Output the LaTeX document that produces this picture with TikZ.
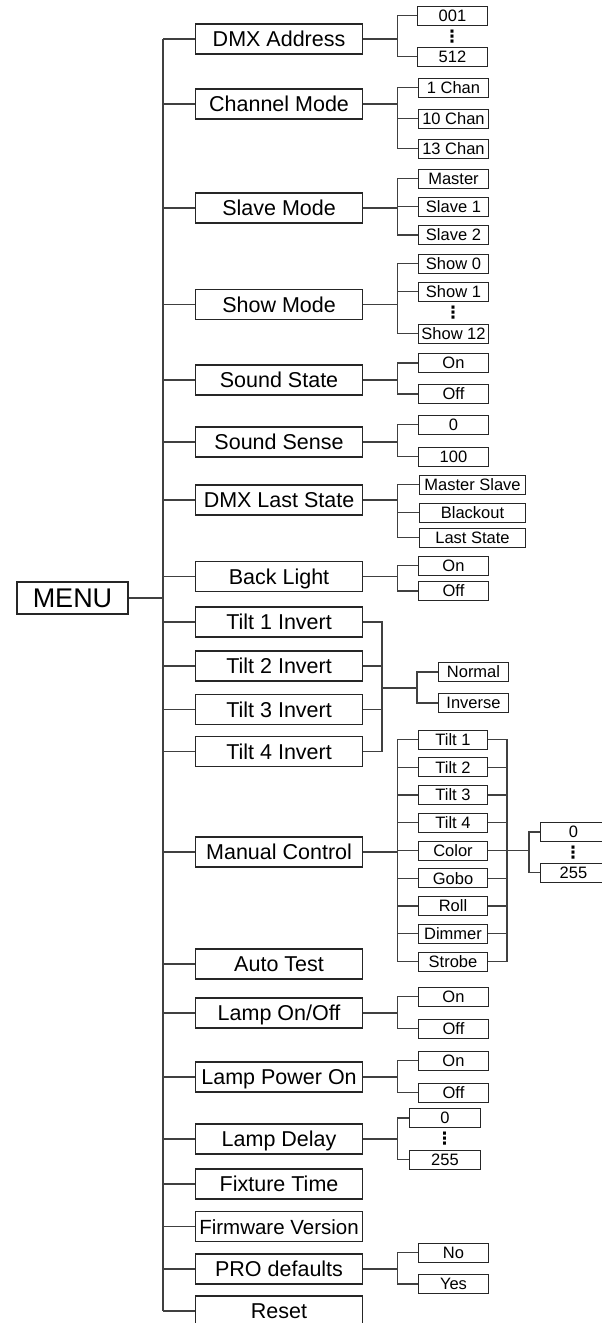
\documentclass[tikz,border=0pt]{standalone}
\usepackage{fontspec}
\setmainfont{Liberation Sans}
\newfontfamily\dotsfont{DejaVu Sans}
\tikzset{
  mainbox/.style={draw=black!85, line width=1.1pt, anchor=west, minimum width=167pt, minimum height=30pt,
    inner sep=0pt, text height=15pt, text depth=0pt, font=\fontsize{21.5}{24}\selectfont},
  subbox/.style={draw=black!85, line width=1pt, anchor=west, minimum width=70pt, minimum height=19pt,
    inner sep=0pt, text height=11.5pt, text depth=0pt, font=\fontsize{16.5}{18}\selectfont},
  wire/.style={draw=black!75, line width=1.2pt},
  vdots/.style={inner sep=0pt, font=\dotsfont\bfseries\fontsize{17}{17}\selectfont}
}
\begin{document}
\begin{tikzpicture}[x=1pt,y=-1pt]
\useasboundingbox (0,0) rectangle (602,1323);
\coordinate (trunk) at (163,0);
\coordinate (bx) at (397.5,0);
\coordinate (tx) at (382,0);
\coordinate (ty) at (417,0);
\coordinate (mr) at (507,0);
\coordinate (mj) at (529,0);
\coordinate (tmid) at (382,688);
% menu
\node [draw=black!85, line width=1.1pt, minimum width=111pt, minimum height=32pt, inner sep=0pt,
  text height=19pt, text depth=0pt, font=\fontsize{27}{30}\selectfont] (menu) at (72.5,598) {MENU};
% main entries
\node [mainbox] (dmx) at (195,39) {DMX Address};
\node [mainbox] (chan) at (195,104) {Channel Mode};
\node [mainbox] (slave) at (195,208) {Slave Mode};
\node [mainbox] (show) at (195,304.5) {Show Mode};
\node [mainbox] (sstate) at (195,380) {Sound State};
\node [mainbox] (ssense) at (195,442) {Sound Sense};
\node [mainbox] (dmxls) at (195,500) {DMX Last State};
\node [mainbox] (blight) at (195,576.5) {Back Light};
\node [mainbox] (tiltA) at (195,622) {Tilt 1 Invert};
\node [mainbox] (tiltB) at (195,666) {Tilt 2 Invert};
\node [mainbox] (tiltC) at (195,709.5) {Tilt 3 Invert};
\node [mainbox] (tiltD) at (195,751.5) {Tilt 4 Invert};
\node [mainbox] (manual) at (195,852) {Manual Control};
\node [mainbox] (auto) at (195,964) {Auto Test};
\node [mainbox] (lamp) at (195,1013) {Lamp On/Off};
\node [mainbox] (lpower) at (195,1077) {Lamp Power On};
\node [mainbox] (ldelay) at (195,1139) {Lamp Delay};
\node [mainbox] (fixture) at (195,1184) {Fixture Time};
\node [mainbox, font=\fontsize{20.5}{24}\selectfont] (firmware) at (195,1226.5) {Firmware Version};
\node [mainbox] (pro) at (195,1269) {PRO defaults};
\node [mainbox] (reset) at (195,1311) {Reset};
% values
\node [subbox] (dmx-1) at (417,15.5) {001};
\node [vdots] (dmx-d) at (452,37) {⋮};
\node [subbox] (dmx-2) at (417,56.5) {512};
\node [subbox] (chan-1) at (418,87.5) {1 Chan};
\node [subbox] (chan-2) at (418,118.5) {10 Chan};
\node [subbox] (chan-3) at (418,148.5) {13 Chan};
\node [subbox] (slave-1) at (418,178.5) {Master};
\node [subbox] (slave-2) at (418,206.5) {Slave 1};
\node [subbox] (slave-3) at (418,235) {Slave 2};
\node [subbox] (show-1) at (418,263.5) {Show 0};
\node [subbox] (show-2) at (418,291.5) {Show 1};
\node [vdots] (show-d) at (453,313) {⋮};
\node [subbox] (show-3) at (418,333.5) {Show 12};
\node [subbox] (sstate-1) at (418,363) {On};
\node [subbox] (sstate-2) at (418,394) {Off};
\node [subbox] (ssense-1) at (418,424.5) {0};
\node [subbox] (ssense-2) at (418,456.5) {100};
\node [subbox, minimum width=106pt] (dmxls-1) at (419,484.5) {Master Slave};
\node [subbox, minimum width=106pt] (dmxls-2) at (419,512.5) {Blackout};
\node [subbox, minimum width=106pt] (dmxls-3) at (419,537.5) {Last State};
\node [subbox] (blight-1) at (418,565.5) {On};
\node [subbox] (blight-2) at (418,591) {Off};
\node [subbox] (normal) at (438,672) {Normal};
\node [subbox] (inverse) at (438,703) {Inverse};
\foreach \t [count=\i from 0] in {Tilt 1,Tilt 2,Tilt 3,Tilt 4,Color,Gobo,Roll,Dimmer,Strobe}
  \node [subbox, minimum width=69pt] (manual-\i) at (418,{739.5+27.75*\i}) {\t};
\node [subbox, minimum width=66pt] (val-1) at (540,832) {0};
\node [vdots] (val-d) at (573,853) {⋮};
\node [subbox, minimum width=66pt] (val-2) at (540,872.5) {255};
\node [subbox] (lamp-1) at (418,996.5) {On};
\node [subbox] (lamp-2) at (418,1028.5) {Off};
\node [subbox] (lpower-1) at (418,1060.5) {On};
\node [subbox] (lpower-2) at (418,1092.5) {Off};
\node [subbox, minimum width=71pt] (ldelay-1) at (409,1118) {0};
\node [vdots] (ldelay-d) at (444.5,1139) {⋮};
\node [subbox, minimum width=71pt] (ldelay-2) at (409,1159.5) {255};
\node [subbox] (pro-1) at (418,1252.5) {No};
\node [subbox] (pro-2) at (418,1284) {Yes};
% trunk
\draw [wire] (menu.east) -- (menu.east -| trunk);
\draw [wire] (dmx.west -| trunk) -- (reset.west -| trunk);
\foreach \m in {dmx,chan,slave,show,sstate,ssense,dmxls,blight,tiltA,tiltB,tiltC,tiltD,manual,auto,lamp,lpower,ldelay,fixture,firmware,pro,reset}
  \draw [wire] (\m.west) -- (\m.west -| trunk);
% brackets with two values
\foreach \m in {dmx,sstate,ssense,blight,lamp,lpower,ldelay,pro} {
  \draw [wire] (\m.east) -- (\m.east -| bx);
  \draw [wire] (\m-1.west) -| (bx |- \m-2.west) -- (\m-2.west);
}
% brackets with three values
\foreach \m in {chan,slave,show,dmxls} {
  \draw [wire] (\m.east) -- (\m.east -| bx);
  \draw [wire] (\m-1.west) -| (bx |- \m-3.west) -- (\m-3.west);
  \draw [wire] (\m-2.west) -- (\m-2.west -| bx);
}
% tilt invert
\draw [wire] (tiltA.east) -| (tx |- tiltD.east) -- (tiltD.east);
\draw [wire] (tiltB.east) -- (tiltB.east -| tx);
\draw [wire] (tiltC.east) -- (tiltC.east -| tx);
\draw [wire] (tmid) -- (tmid -| ty);
\draw [wire] (normal.west) -| (ty |- inverse.west) -- (inverse.west);
% manual control
\draw [wire] (manual.east) -- (manual.east -| bx);
\draw [wire] (manual-0.west) -| (bx |- manual-8.west) -- (manual-8.west);
\draw [wire] (manual-0.east) -| (mr |- manual-8.east) -- (manual-8.east);
\foreach \i in {1,...,7} {
  \draw [wire] (manual-\i.west) -- (manual-\i.west -| bx);
  \draw [wire] (manual-\i.east) -- (manual-\i.east -| mr);
}
\draw [wire] (manual-4.east) -- (manual-4.east -| mj);
\draw [wire] (val-1.west) -| (mj |- val-2.west) -- (val-2.west);
\end{tikzpicture}
\end{document}
